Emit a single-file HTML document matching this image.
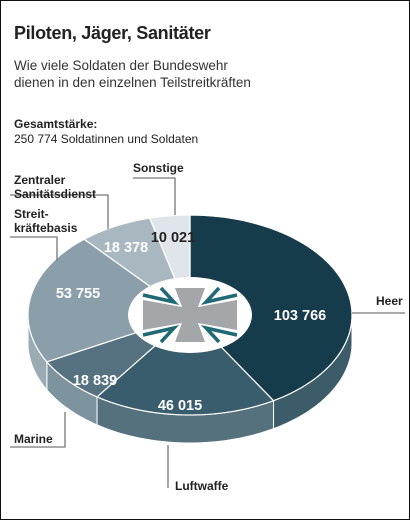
<!DOCTYPE html>
<html><head><meta charset="utf-8"><style>
html,body{margin:0;padding:0;background:#fff}
#wrap{position:relative;width:410px;height:520px;box-sizing:border-box;border:1.5px solid #111;overflow:hidden;font-family:"Liberation Sans",sans-serif;color:#222}
.t{position:absolute;white-space:nowrap}
</style></head><body>
<div id="wrap">
<div class="t" style="left:13px;top:22px;font-size:18px;font-weight:bold;letter-spacing:-0.3px">Piloten, Jäger, Sanitäter</div>
<div class="t" style="left:13px;top:56px;font-size:13.5px;line-height:17px;color:#333">Wie viele Soldaten der Bundeswehr<br>dienen in den einzelnen Teilstreitkräften</div>
<div class="t" style="left:13px;top:116px;font-size:12px;line-height:15px;color:#222"><b>Gesamtstärke:</b><br>250 774 Soldatinnen und Soldaten</div>
<svg id="chart" width="410" height="520" style="position:absolute;left:-1.5px;top:-1.5px" font-family="Liberation Sans, sans-serif"></svg>
</div>
<script>
const categories=["Heer","Luftwaffe","Marine","Streitkräftebasis","Zentraler Sanitätsdienst","Sonstige"];
const values=[103766,46015,18839,53755,18378,10021];
const valueLabels=["103 766","46 015","18 839","53 755","18 378","10 021"];
const topColors=["#163b4b","#3a5d6d","#56717f","#8a9faa","#a9b8c0","#dfe5ea"];
const sideColors=["#3d5c6a","#55717e","#7d939e","#9aabb4","#b5c2c9","#e5eaee"];
const labelColors=["#fff","#fff","#fff","#fff","#fff","#222"];
const labelXY=[[300,320],[180,410],[95,385],[78,298],[126,252],[173,242]];
const svg=document.getElementById('chart');
const NS='http://www.w3.org/2000/svg';
const cx=190,cy=315,rx=162,ry=100,depth=28,hrx=62,hry=38;
function mk(t,a){const e=document.createElementNS(NS,t);for(const k in a)e.setAttribute(k,a[k]);svg.appendChild(e);return e;}
function pt(t,dy,r1,r2){return [cx+r1*Math.sin(t),cy-r2*Math.cos(t)+(dy||0)];}
const total=values.reduce((a,b)=>a+b,0);
let ang=[0];values.forEach(v=>ang.push(ang[ang.length-1]+v/total*2*Math.PI));
for(let i=0;i<values.length;i++){
  let a0=Math.max(ang[i],Math.PI/2),a1=Math.min(ang[i+1],3*Math.PI/2);
  if(a1<=a0)continue;
  let d='';const N=40;
  for(let k=0;k<=N;k++){const t=a0+(a1-a0)*k/N;const p=pt(t,0,rx,ry);d+=(k?'L':'M')+p[0]+','+p[1];}
  for(let k=N;k>=0;k--){const t=a0+(a1-a0)*k/N;const p=pt(t,depth,rx,ry);d+='L'+p[0]+','+p[1];}
  const s=mk('path',{d:d+'Z',fill:sideColors[i],stroke:'#fff','stroke-width':1});
  
  
}
for(let i=0;i<values.length;i++){
  let d='';const N=60;
  for(let k=0;k<=N;k++){const t=ang[i]+(ang[i+1]-ang[i])*k/N;const p=pt(t,0,rx,ry);d+=(k?'L':'M')+p[0]+','+p[1];}
  d+='L'+cx+','+cy+'Z';
  const s=mk('path',{d:d,fill:topColors[i],stroke:'#fff','stroke-width':1.2});
  
  
}
const h=mk('ellipse',{cx:cx,cy:cy,rx:hrx,ry:hry,fill:'#fff'});


const cr=mk('path',{d:'M'+(cx-15)+','+(cy-27)+'L'+(cx+15)+','+(cy-27)+'L'+(cx+8)+','+(cy-8)+'L'+(cx+47)+','+(cy-15)+'L'+(cx+47)+','+(cy+15)+'L'+(cx+8)+','+(cy+8)+'L'+(cx+15)+','+(cy+27)+'L'+(cx-15)+','+(cy+27)+'L'+(cx-8)+','+(cy+8)+'L'+(cx-47)+','+(cy+15)+'L'+(cx-47)+','+(cy-15)+'L'+(cx-8)+','+(cy-8)+'Z',fill:'#a4a7aa'});


[[1,1],[1,-1],[-1,1],[-1,-1]].forEach(([sx,sy])=>{
  const m=mk('path',{d:'M'+(cx+sx*29)+','+(cy+sy*27)+'L'+(cx+sx*16)+','+(cy+sy*13)+'L'+(cx+sx*47)+','+(cy+sy*20),fill:'none',stroke:'#1f6a74','stroke-width':3.5});
  
  
});
for(let i=0;i<values.length;i++){
  const tx=mk('text',{x:labelXY[i][0],y:labelXY[i][1],'text-anchor':'middle','font-size':14.5,'font-weight':'bold',fill:labelColors[i]});
  tx.textContent=valueLabels[i];
  
  
}
const leaders=[
 ['Heer','M352,313L405,313',376,305],
 ['Luftwaffe','M168,445L168,488',175,490],
 ['Marine','M65,412L65,447L10,447',14,443],
 ['Streit-|kräftebasis','M10,237L57,237L57,261',14,218],
 ['Zentraler|Sanitätsdienst','M10,195L108,195L108,229',14,184],
 ['Sonstige','M133,178L175,178L175,215',133,172]
];
leaders.forEach((l,i)=>{
  const p=mk('path',{d:l[1],fill:'none',stroke:'#777','stroke-width':1.3});
  
  
  l[0].split('|').forEach((line,j)=>{
    const t=mk('text',{x:l[2],y:l[3]+j*14,'font-size':12,'font-weight':'bold',fill:'#222'});
    t.textContent=line;
    
    
  });
});
</script>
</body></html>
